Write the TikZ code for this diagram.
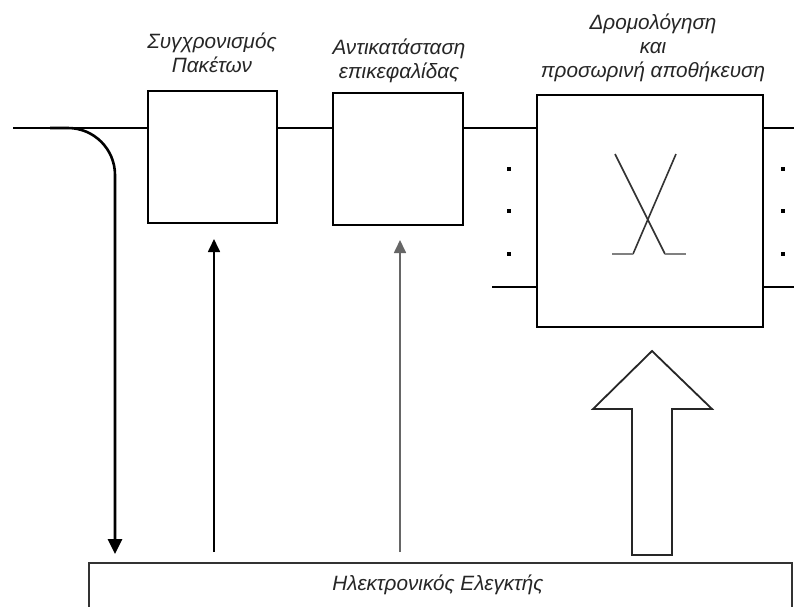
\documentclass[tikz,border=0pt]{standalone}
\usepackage{fontspec}
\setmainfont{Liberation Sans}
\usetikzlibrary{arrows.meta}
\begin{document}
\begin{tikzpicture}[x=1pt,y=-1pt,
  block/.style={draw=black,line width=2.6pt,fill=white,inner sep=0pt},
  wire/.style={line width=2.6pt},
  label/.style={font=\fontsize{20.7}{24}\selectfont\itshape,text=black!85,align=center,inner sep=0pt},
  portdot/.style={fill=black,minimum size=4.2pt,inner sep=0pt},
  ctrl/.style={line width=1.7pt,-{Triangle[length=13pt,width=12pt]}},
  bigarrow/.style={draw=black!85,line width=1.8pt,fill=white,line join=miter}]
\useasboundingbox (0,0) rectangle (794,606);
\clip (0,0) rectangle (794,606);
\fill[white] (0,0) rectangle (794,606);

% processing stages
\node[block,minimum width=129pt,minimum height=132pt] (sync) at (212.5,157) {};
\node[block,minimum width=130pt,minimum height=132pt] (hdr) at (398,159) {};
\node[block,minimum width=226pt,minimum height=232pt] (sw) at (650,211) {};

% electronic controller (runs past the lower edge)
\node[draw=black!80,line width=1.8pt,minimum width=703pt,minimum height=80pt,
      anchor=north west,inner sep=0pt] (ctl) at (88,562) {};
\node[label] (ctltext) at (438,585) {Ηλεκτρονικός Ελεγκτής};

% stage titles
\node[label] (syncl) at (212,53) {Συγχρονισμός\\Πακέτων};
\node[label] (hdrl) at (399,61) {Αντικατάσταση\\επικεφαλίδας};
\node[label] (swl) at (653,48) {Δρομολόγηση\\και\\προσωρινή αποθήκευση};

% optical data path
\coordinate (in) at (13,128);
\coordinate (out1) at (794,128);
\coordinate (inN) at (492,287);
\coordinate (outN) at (794,287);
\draw[wire] (in) -- (in -| sync.west);
\draw[wire] (in -| sync.east) -- (in -| hdr.west);
\draw[wire] (in -| hdr.east) -- (in -| sw.west);
\draw[wire] (in -| sw.east) -- (out1);
\draw[wire] (inN) -- (inN -| sw.west);
\draw[wire] (inN -| sw.east) -- (outN);

% further ports
\foreach \yy [count=\i] in {169,211,254} {
  \node[portdot] (dl\i) at (509,\yy) {};
  \node[portdot] (dr\i) at (783,\yy) {};
}

% switching symbol
\coordinate (xa) at (615,154);
\coordinate (xb) at (665,254);
\coordinate (xc) at (686,254);
\coordinate (xd) at (676,154);
\coordinate (xe) at (633,254);
\coordinate (xf) at (612,254);
\draw[line width=1.6pt,black!80] (xa) -- (xb);
\draw[line width=1.6pt,black!80] (xd) -- (xe);
\draw[line width=2pt,black!50] (xb) -- (xc);
\draw[line width=2pt,black!50] (xe) -- (xf);

% tapped header branch to the controller
\coordinate (tap) at (50,128);
\coordinate (tapend) at (115,554);
\draw[line width=2.6pt,rounded corners=47pt,-{Triangle[length=15pt,width=14pt]}]
  (tap) -| (tapend);

% control signals
\draw[ctrl] (214,552) -- (214,239);
\draw[ctrl,black!60] (400,552) -- (400,240);

% routing control (hollow block arrow)
\draw[bigarrow] (632,555) -- (632,409) -- (593,409) -- (652,351)
  -- (712,409) -- (672,409) -- (672,555) -- cycle;
\end{tikzpicture}
\end{document}
